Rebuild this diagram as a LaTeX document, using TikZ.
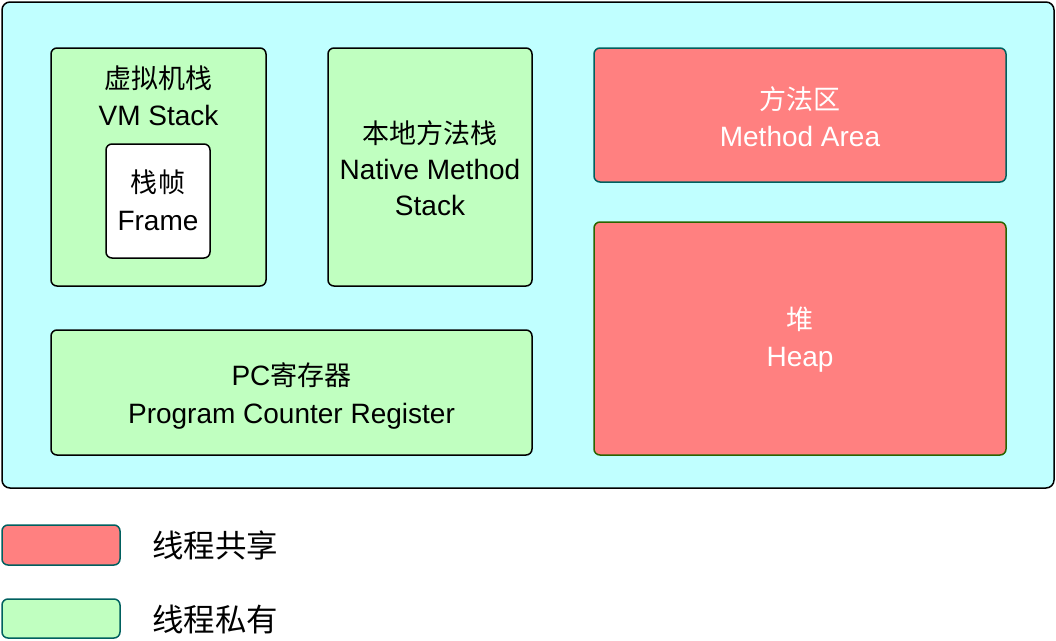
\documentclass[tikz,border=0pt]{standalone}
\usepackage{fontspec}
\setmainfont{Liberation Sans}
\newfontfamily\cjk[Scale=0.965]{Noto Sans CJK SC}
\usepackage{tikz}
\usetikzlibrary{positioning}

\definecolor{areacyan}{HTML}{C0FFFF}
\definecolor{privgreen}{HTML}{C0FFC0}
\definecolor{sharedred}{HTML}{FF8080}
\definecolor{tealline}{HTML}{00605F}
\definecolor{heapline}{HTML}{2A6400}

\tikzset{
  box/.style={draw, line width=1.5pt, rounded corners=6pt, inner sep=0pt},
  privbox/.style={box, fill=privgreen, draw=black},
  sharedbox/.style={box, fill=sharedred},
  txt/.style={align=center, font=\fontsize{28}{37.5}\selectfont},
  legtxt/.style={anchor=west, font=\fontsize{32.6}{38}\selectfont\cjk}
}

\begin{document}
\begin{tikzpicture}[x=1pt,y=-1pt]
            \useasboundingbox (0,0) rectangle (1056,640);
            % runtime data area
            \node[box, draw=black, fill=areacyan, rounded corners=8pt,
                  minimum width=1052pt, minimum height=486pt] (area) at (528,245) {};

            % thread private
            \node[privbox, minimum width=215pt, minimum height=238pt] (vmstack) at (158.5,167) {};
            \node[txt] (vmtext) at (158.5,96) {{\cjk 虚拟机栈}\\VM Stack};
            \node[privbox, fill=white, minimum width=104pt, minimum height=114pt] (frame) at (158,201) {};
            \node[txt] (frametext) at (158,200.5) {{\cjk 栈帧}\\Frame};

            \node[privbox, minimum width=204pt, minimum height=238pt] (native) at (430,167) {};
            \node[txt, font=\fontsize{28}{36}\selectfont] (nativetext) at (430,168) {{\cjk 本地方法栈}\\Native Method\\Stack};

            \node[privbox, minimum width=481pt, minimum height=125pt] (pcreg) at (291.5,392.5) {};
            \node[txt] (pctext) at (291.5,396) {PC{\cjk 寄存器}\\Program Counter Register};

            % thread shared
            \node[sharedbox, draw=tealline, minimum width=412pt, minimum height=134pt] (method) at (800,115) {};
            \node[txt, text=white] (methodtext) at (800,116.5) {{\cjk 方法区}\\Method Area};

            \node[sharedbox, draw=heapline, minimum width=412pt, minimum height=233pt] (heap) at (800,338.5) {};
            \node[txt, text=white] (heaptext) at (800,339.5) {{\cjk 堆}\\Heap};

            % legend
            \node[sharedbox, draw=tealline, minimum width=118pt, minimum height=40pt] (legshared) at (61,545) {};
            \node[legtxt] (sharedtext) at (149,545) {线程共享};
            \node[privbox, draw=tealline, minimum width=118pt, minimum height=39pt] (legprivate) at (61,618.5) {};
            \node[legtxt] (privatetext) at (149,619) {线程私有};
\end{tikzpicture}
\end{document}
